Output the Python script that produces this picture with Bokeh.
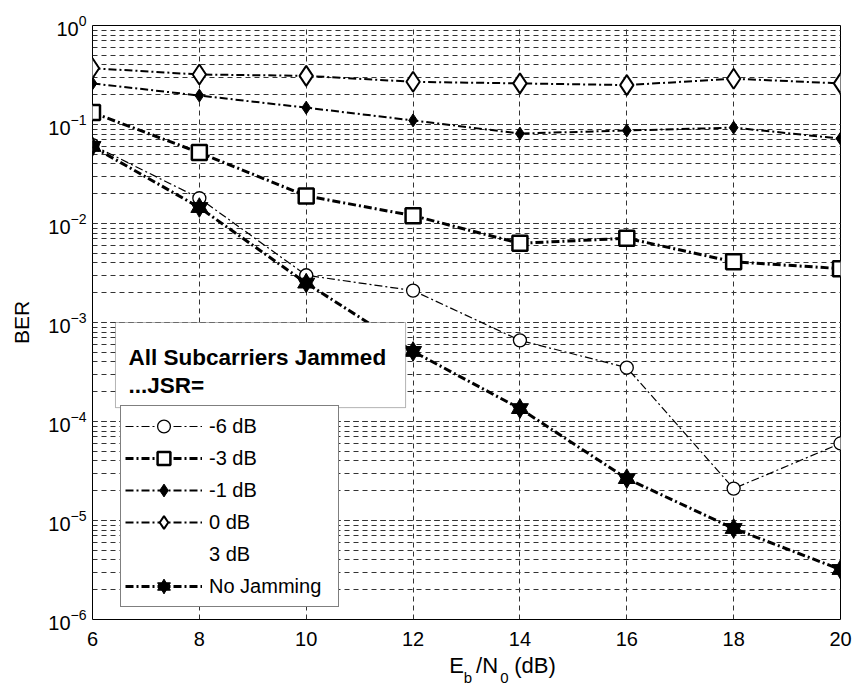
from bokeh.plotting import figure
from bokeh.models import (Range1d, Legend, LegendItem, Label, BoxAnnotation, FixedTicker,
                          LinearAxis, CustomJSTickFormatter)
from bokeh.embed import file_html
from bokeh.resources import INLINE

# ---- data ----
ebn0 = [6, 8, 10, 12, 14, 16, 18, 20]
x_ticks = [6, 8, 10, 12, 14, 16, 18, 20]
ber_m6 = [0.062, 0.018, 0.0030, 0.0021, 0.00066, 0.00035, 2.1e-5, 6.0e-5]
ber_m3 = [0.132, 0.052, 0.019, 0.012, 0.0063, 0.0071, 0.0041, 0.0035]
ber_m1 = [0.26, 0.196, 0.148, 0.11, 0.081, 0.087, 0.093, 0.072]
ber_0 = [0.37, 0.32, 0.31, 0.27, 0.26, 0.25, 0.29, 0.26]
ber_3 = []  # not visible in the reference
ber_nojam = [0.06, 0.0145, 0.0025, 0.00051, 0.000135, 2.65e-5, 8.3e-6, 3.2e-6]
labels = ["-6 dB", "-3 dB", "-1 dB", "0 dB", "3 dB", "No Jamming"]

# x-axis title pieces (E_b/N_0 (dB)): normal-size parts and subscripts
xlab_main_txt = ["E", "/N", "(dB)"]
xlab_main_pos = [12.813, 13.384, 14.282]
xlab_sub_txt = ["b", "0"]
xlab_sub_pos = [13.028, 13.711]

FONT = "Liberation Sans"
DASH = "8 3 2 3"

p = figure(width=855, height=689, output_backend="svg", toolbar_location=None,
           y_axis_type="log", x_range=Range1d(6, 20), y_range=Range1d(1e-6, 1),
           min_border_left=92, min_border_right=15, min_border_top=25, min_border_bottom=68,
           frame_width=748, frame_height=594)
p.outline_line_color = "black"
p.outline_line_width = 1
p.background_fill_color = "white"

p.xaxis.ticker = FixedTicker(ticks=x_ticks)
for ax in (p.xaxis[0], p.yaxis[0]):
    ax.major_label_text_font = FONT
    ax.major_label_text_font_size = "20px"
    ax.major_label_text_color = "black"
    ax.major_tick_in = 0
    ax.major_tick_out = 0
    ax.minor_tick_in = 0
    ax.minor_tick_out = 0
    ax.axis_line_color = None
p.xaxis.major_label_standoff = 12
p.yaxis.major_label_standoff = 6
p.yaxis.axis_label = "BER"
p.yaxis.axis_label_text_font = FONT
p.yaxis.axis_label_text_font_size = "21px"
p.yaxis.axis_label_text_font_style = "normal"
p.yaxis.axis_label_text_color = "black"
p.yaxis.axis_label_standoff = 12

p.xgrid.grid_line_color = "#333333"
p.xgrid.grid_line_dash = "5 4"
p.ygrid.grid_line_color = "#333333"
p.ygrid.grid_line_dash = "5 4"
p.ygrid.minor_grid_line_color = "#333333"
p.ygrid.minor_grid_line_dash = "5 4"

PICK = """
let best = 0;
for (let i = 0; i < pos.length; i++) {
  if (Math.abs(pos[i] - tick) < Math.abs(pos[best] - tick)) best = i;
}
return txt[best];
"""


def text_axis(pos, txt, size, standoff):
    ax = LinearAxis(ticker=FixedTicker(ticks=pos),
                    formatter=CustomJSTickFormatter(args=dict(pos=pos, txt=txt), code=PICK))
    ax.axis_line_color = None
    ax.major_tick_in = 0
    ax.major_tick_out = 0
    ax.minor_tick_in = 0
    ax.minor_tick_out = 0
    ax.major_label_text_font = FONT
    ax.major_label_text_font_size = size
    ax.major_label_text_color = "black"
    ax.major_label_standoff = standoff
    p.add_layout(ax, "below")


text_axis(xlab_main_pos, xlab_main_txt, "22px", 4)
text_axis(xlab_sub_pos, xlab_sub_txt, "15px", -12)

# ---- series ----
l1 = p.line(ebn0, ber_m6, line_color="black", line_width=1.2, line_dash=DASH)
s1 = p.scatter(ebn0, ber_m6, marker="circle", size=13, line_color="black", line_width=1.3, fill_color="white")

l2 = p.line(ebn0, ber_m3, line_color="black", line_width=3, line_dash=DASH)
s2 = p.scatter(ebn0, ber_m3, marker="square", size=15, line_color="black", line_width=2.5, fill_color="white")

l3 = p.line(ebn0, ber_m1, line_color="black", line_width=2, line_dash=DASH)
s3 = p.scatter(ebn0, ber_m1, marker="diamond", size=13, line_color="black", fill_color="black")

l4 = p.line(ebn0, ber_0, line_color="black", line_width=2, line_dash=DASH)
s4 = p.scatter(ebn0, ber_0, marker="diamond", size=20, line_color="black", line_width=2, fill_color="white")

l5 = p.line(ber_3, ber_3, line_color="black", line_alpha=0, line_width=2, line_dash=DASH)

l6 = p.line(ebn0, ber_nojam, line_color="black", line_width=3, line_dash=DASH)
s6a = p.scatter(ebn0, ber_nojam, marker="triangle", size=17, line_color="black", fill_color="black")
s6b = p.scatter(ebn0, ber_nojam, marker="inverted_triangle", size=17, line_color="black", fill_color="black")

# ---- legend title box ----
box = BoxAnnotation(left=6.43, right=11.86, top=10 ** -3.0, bottom=10 ** -3.86,
                    fill_color="white", fill_alpha=1, line_color="black", line_width=1)
p.add_layout(box)
p.add_layout(Label(x=6.674, y=10 ** -3.354, text="All Subcarriers Jammed", text_font=FONT,
                   text_font_size="22.5px", text_font_style="bold", text_baseline="alphabetic",
                   text_color="black"))
p.add_layout(Label(x=6.674, y=10 ** -3.636, text="...JSR=", text_font=FONT,
                   text_font_size="22.5px", text_font_style="bold", text_baseline="alphabetic",
                   text_color="black"))

legend = Legend(items=[
    LegendItem(label=labels[0], renderers=[l1, s1]),
    LegendItem(label=labels[1], renderers=[l2, s2]),
    LegendItem(label=labels[2], renderers=[l3, s3]),
    LegendItem(label=labels[3], renderers=[l4, s4]),
    LegendItem(label=labels[4], renderers=[l5]),
    LegendItem(label=labels[5], renderers=[l6, s6a, s6b]),
], location=(28, 12))
legend.glyph_width = 77
legend.glyph_height = 32
legend.label_height = 20
legend.label_width = 125
legend.spacing = 0
legend.padding = 4
legend.margin = 0
legend.label_standoff = 7
legend.label_text_font = FONT
legend.label_text_font_size = "20px"
legend.label_text_color = "black"
legend.border_line_color = "black"
legend.background_fill_alpha = 1
p.add_layout(legend)

open("out.html", "w").write(file_html(p, INLINE))
